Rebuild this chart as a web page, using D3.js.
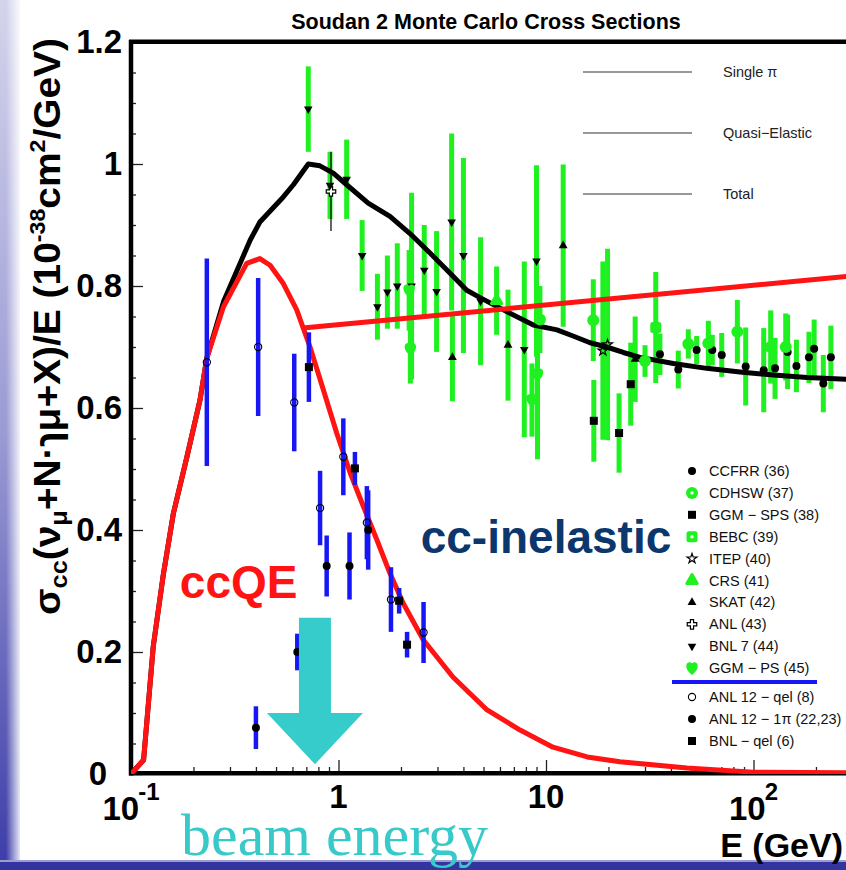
<!DOCTYPE html>
<html>
<head>
<meta charset="utf-8">
<script src="https://cdn.jsdelivr.net/npm/d3@7"></script>
<style>
  body { margin: 0; background: #fff; }
  svg { display: block; }
</style>
</head>
<body>
<svg id="chart" width="846" height="870"></svg>
<script>
// ---- Monte Carlo curves (E in GeV, sigma/E in 1e-38 cm2/GeV)
var qeE = [0.1, 0.115, 0.128, 0.143, 0.16, 0.186, 0.215, 0.232, 0.279, 0.361, 0.418, 0.468, 0.542, 0.629, 0.729, 0.845, 0.98, 1.14, 1.32, 1.53, 1.77, 2.05, 2.56, 3.56, 5.2, 7.5, 10.8, 15.8, 22.7, 47.8, 99.4, 320];
var qeS = [0, 0.023, 0.209, 0.326, 0.427, 0.52, 0.613, 0.682, 0.766, 0.837, 0.845, 0.834, 0.804, 0.761, 0.7, 0.63, 0.559, 0.493, 0.438, 0.384, 0.329, 0.28, 0.22, 0.159, 0.105, 0.072, 0.044, 0.028, 0.02, 0.01, 0.003, 0.002];
var totE = [0.1, 0.115, 0.128, 0.143, 0.16, 0.186, 0.215, 0.232, 0.279, 0.375, 0.418, 0.542, 0.606, 0.715, 0.814, 0.944, 1.095, 1.39, 1.77, 2.21, 2.76, 3.45, 4.15, 4.81, 6.47, 8.69, 11.3, 13.5, 16.3, 19.6, 23.6, 28.4, 41.1, 59.5, 86.1, 125, 181, 320];
var totS = [0, 0.023, 0.209, 0.326, 0.427, 0.52, 0.613, 0.682, 0.774, 0.875, 0.905, 0.946, 0.966, 1.0, 0.997, 0.985, 0.966, 0.936, 0.914, 0.886, 0.854, 0.821, 0.793, 0.781, 0.758, 0.736, 0.728, 0.718, 0.707, 0.70, 0.691, 0.683, 0.673, 0.665, 0.659, 0.654, 0.65, 0.646];
var spiE = [0.674, 320];
var spiS = [0.731, 0.8175];

// ---- measurements: [E, sigma/E, error]
var ccfrr = [[35.4, 0.688, 0.034], [43.4, 0.663, 0.031], [53.2, 0.695, 0.023], [63.3, 0.695, 0.025], [70.3, 0.687, 0.036], [91.7, 0.668, 0.064], [112, 0.662, 0.069], [127, 0.665, 0.05], [146, 0.692, 0.061], [161, 0.669, 0.043], [185, 0.683, 0.042], [196, 0.697, 0.048], [217, 0.64, 0.047], [236, 0.683, 0.052]];
var cdhsw = [[9.35, 0.745, 0.055], [16.9, 0.744, 0.067], [30.0, 0.677, 0.026], [48.5, 0.705, 0.024], [60.6, 0.706, 0.037], [83.6, 0.725, 0.052], [121, 0.70, 0.06], [143, 0.70, 0.055]];
var ggmSps = [[17.0, 0.579, 0.067], [22.5, 0.559, 0.065], [25.6, 0.639, 0.068]];
var bebc = [[33.8, 0.732, 0.091]];
var itep = [[18.8, 0.694, 0.146], [19.8, 0.704, 0.157]];
var crs = [[5.78, 0.776, 0.056]];
var skat = [[3.54, 0.683, 0.072], [6.56, 0.703, 0.091], [12.1, 0.866, 0.133], [26.9, 0.68, 0.07]];
var anl = [[0.92, 0.955, 0.065]];
var bnl7 = [[0.715, 1.09, 0.07], [0.91, 0.965, 0.055], [1.095, 0.975, 0.065], [1.30, 0.85, 0.058], [1.54, 0.766, 0.054], [1.72, 0.79, 0.06], [1.92, 0.80, 0.07], [2.25, 0.80, 0.153], [2.59, 0.826, 0.074], [2.97, 0.791, 0.099], [3.51, 0.905, 0.145], [4.0, 0.85, 0.16], [4.84, 0.775, 0.105], [7.86, 0.696, 0.144], [9.0, 0.841, 0.157]];
var ggmPs = [[2.19, 0.793, 0.066], [2.22, 0.697, 0.057], [8.56, 0.613, 0.06], [9.1, 0.655, 0.139]];
var anlQel = [[0.232, 0.675, 0.17], [0.41, 0.70, 0.113], [0.612, 0.609, 0.08], [0.815, 0.436, 0.061], [1.055, 0.52, 0.063], [1.37, 0.412, 0.06], [1.79, 0.286, 0.053], [2.57, 0.232, 0.05]];
var anl1pi = [[0.40, 0.076, 0.035], [0.633, 0.20, 0.03], [0.877, 0.341, 0.05], [1.13, 0.341, 0.055], [1.39, 0.40, 0.065]];
var bnlQel = [[0.72, 0.667, 0.057], [1.20, 0.501, 0.027], [1.96, 0.284, 0.021], [2.14, 0.212, 0.021]];

// ---- axis labels / legend text
var yTicks = [0, 0.2, 0.4, 0.6, 0.8, 1, 1.2];
var yTickLabels = ["0", "0.2", "0.4", "0.6", "0.8", "1", "1.2"];
var xTicks = [0.1, 1, 10, 100];
var xTickBase = ["10", "1", "10", "10"];
var xTickExp = ["-1", "", "", "2"];
var curveNames = ["Single \u03c0", "Quasi\u2212Elastic", "Total"];
var legendNames = ["CCFRR (36)", "CDHSW (37)", "GGM \u2212 SPS (38)", "BEBC (39)", "ITEP (40)", "CRS (41)", "SKAT (42)", "ANL (43)", "BNL 7 (44)", "GGM \u2212 PS (45)", "ANL 12 \u2212 qel (8)", "ANL 12 \u2212 1\u03c0 (22,23)", "BNL \u2212 qel (6)"];

var GREEN = "#1ff01f", BLUE = "#1717f5", RED = "#ff1313";
var SANS = "'Liberation Sans', Arial, sans-serif";

var series = [
    { data: ccfrr, marker: "dot", bar: GREEN },
    { data: cdhsw, marker: "ring", bar: GREEN },
    { data: ggmSps, marker: "square", bar: GREEN },
    { data: bebc, marker: "box", bar: GREEN },
    { data: itep, marker: "star", bar: GREEN },
    { data: crs, marker: "gtri", bar: GREEN },
    { data: skat, marker: "tri", bar: GREEN },
    { data: anl, marker: "cross", bar: "#000" },
    { data: bnl7, marker: "down", bar: GREEN },
    { data: ggmPs, marker: "blob", bar: GREEN },
    { data: anlQel, marker: "open", bar: BLUE },
    { data: anl1pi, marker: "dot", bar: BLUE },
    { data: bnlQel, marker: "square", bar: BLUE }
];
series.forEach((s, i) => s.name = legendNames[i]);

var svg = d3.select("#chart");
var W = 846, H = 870;

var x = d3.scaleLog().domain([0.1, 320]).range([131, 131 + 207.5 * Math.log10(3200)]);
var y = d3.scaleLinear().domain([0, 1.2]).range([774, 42]);

// ---- slide background
var defs = svg.append("defs");
var gl = defs.append("linearGradient").attr("id", "side").attr("x1", 0).attr("x2", 0).attr("y1", 0).attr("y2", 1);
gl.append("stop").attr("offset", "0").attr("stop-color", "#d4d4ec");
gl.append("stop").attr("offset", "0.5").attr("stop-color", "#9a9ad4");
gl.append("stop").attr("offset", "1").attr("stop-color", "#3c3ca8");
var fade = defs.append("linearGradient").attr("id", "fade").attr("x1", 0).attr("x2", 1).attr("y1", 0).attr("y2", 0);
fade.append("stop").attr("offset", "0").attr("stop-color", "#fff").attr("stop-opacity", 0);
fade.append("stop").attr("offset", "1").attr("stop-color", "#fff").attr("stop-opacity", 1);
defs.append("clipPath").attr("id", "plotclip").append("rect")
    .attr("x", 131).attr("y", 42).attr("width", W - 131).attr("height", 732);

svg.append("rect").attr("width", W).attr("height", H).attr("fill", "#fff");
svg.append("rect").attr("x", 0).attr("y", 0).attr("width", 20).attr("height", H).attr("fill", "url(#side)");
svg.append("rect").attr("x", 6).attr("y", 0).attr("width", 16).attr("height", H).attr("fill", "url(#fade)");
svg.append("rect").attr("x", 0).attr("y", 862).attr("width", W).attr("height", 8).attr("fill", "#34349f");
svg.append("rect").attr("x", 0).attr("y", 860).attr("width", W).attr("height", 2).attr("fill", "#9c9cd4");

// ---- title
svg.append("text").attr("x", 486).attr("y", 29).attr("text-anchor", "middle")
    .attr("font-family", SANS).attr("font-weight", "bold").attr("font-size", 21.5)
    .text("Soudan 2 Monte Carlo Cross Sections");

// ---- axes
function styleTicks(g) {
    g.select(".domain").remove();
    g.selectAll(".tick line").attr("stroke", "#222").attr("stroke-width", 1.3);
}
var yMinor = d3.range(0.05, 1.2, 0.05).filter(v => Math.abs(v * 5 - Math.round(v * 5)) > 1e-6);
svg.append("g").attr("transform", "translate(131,0)")
    .call(d3.axisLeft(y).tickValues(yMinor).tickSize(-5).tickFormat(""))
    .call(styleTicks);
var yg = svg.append("g").attr("transform", "translate(131,0)")
    .call(d3.axisLeft(y).tickValues(yTicks).tickSize(-12).tickPadding(9).tickFormat((d, i) => yTickLabels[i]))
    .call(styleTicks);
yg.attr("font-family", SANS).attr("font-size", 33).attr("font-weight", "bold");
yg.selectAll(".tick text").attr("fill", "#000").filter(d => d === 0).attr("x", -24);

var xMinor = [];
[0.1, 1, 10, 100].forEach(dec => d3.range(2, 10).forEach(k => { if (dec * k <= 320) xMinor.push(dec * k); }));
svg.append("g").attr("transform", "translate(0,773)")
    .call(d3.axisBottom(x).tickValues(xMinor).tickSize(-6).tickFormat(""))
    .call(styleTicks);
svg.append("g").attr("transform", "translate(0,773)")
    .call(d3.axisBottom(x).tickValues(xTicks).tickSize(-13).tickFormat(""))
    .call(styleTicks);

var xl = svg.append("g").selectAll("text").data(xTicks).enter().append("text")
    .attr("x", d => x(d))
    .attr("y", (d, i) => xTickExp[i] ? 820 : 808)
    .attr("text-anchor", "middle")
    .attr("font-family", SANS).attr("font-size", 33).attr("font-weight", "bold");
xl.append("tspan").text((d, i) => xTickBase[i]);
xl.filter((d, i) => xTickExp[i]).append("tspan")
    .attr("font-size", 24).attr("dy", -20).attr("dx", -1)
    .text((d, i) => xTickExp[xTicks.indexOf(d)]);

// frame
svg.append("path").attr("d", `M131,40V775.5`).attr("stroke", "#000").attr("stroke-width", 4.5);
svg.append("path").attr("d", `M129,41.8H${W}`).attr("stroke", "#000").attr("stroke-width", 4.5);
svg.append("path").attr("d", `M129,773.3H${W}`).attr("stroke", "#000").attr("stroke-width", 4.5);

// axis titles
svg.append("text").attr("x", 843).attr("y", 857).attr("text-anchor", "end")
    .attr("font-family", SANS).attr("font-size", 34).attr("font-weight", "bold").text("E (GeV)");

var yt = svg.append("text").attr("transform", "translate(60,615) rotate(-90)")
    .attr("font-family", SANS).attr("font-size", 37).attr("font-weight", "bold")
    .attr("textLength", 577).attr("lengthAdjust", "spacingAndGlyphs");
yt.append("tspan").text("\u03c3");
yt.append("tspan").attr("font-size", 24).attr("dy", 7).text("cc");
yt.append("tspan").attr("dy", -7).text("(\u03bd");
yt.append("tspan").attr("font-size", 24).attr("dy", 7).text("\u03bc");
yt.append("tspan").attr("dy", -7).text("+N\u00b7\u027f\u03bc+X)/E (10");
yt.append("tspan").attr("font-size", 22).attr("dy", -15).text("-38");
yt.append("tspan").attr("dy", 15).text("cm");
yt.append("tspan").attr("font-size", 22).attr("dy", -15).text("2");
yt.append("tspan").attr("dy", 15).text("/GeV)");

// ---- markers (inLegend: hollow centre on the green symbols)
function drawMarker(g, type, cx, cy, inLegend) {
    var m = g.append("g").attr("transform", `translate(${cx},${cy})`);
    if (type === "dot") m.append("circle").attr("r", 4).attr("fill", "#000");
    else if (type === "open") m.append("circle").attr("r", 3.6).attr("fill", "none").attr("stroke", "#000").attr("stroke-width", 1.1);
    else if (type === "square") m.append("rect").attr("x", -4).attr("y", -4).attr("width", 8).attr("height", 8).attr("fill", "#000");
    else if (type === "ring") {
        m.append("circle").attr("r", 6).attr("fill", GREEN);
        if (inLegend) m.append("circle").attr("r", 1.7).attr("fill", "#fff");
    } else if (type === "box") {
        m.append("rect").attr("x", -5.5).attr("y", -5.5).attr("width", 11).attr("height", 11).attr("rx", 2.5).attr("fill", GREEN);
        if (inLegend) m.append("circle").attr("r", 1.7).attr("fill", "#fff");
    } else if (type === "star") m.append("path").attr("d", d3.symbol(d3.symbolStar, 30)()).attr("fill", "none").attr("stroke", "#000").attr("stroke-width", 1.2);
    else if (type === "tri") m.append("path").attr("d", d3.symbol(d3.symbolTriangle, 34)()).attr("fill", "#000");
    else if (type === "gtri") m.append("path").attr("d", d3.symbol(d3.symbolTriangle, 46)()).attr("fill", GREEN)
        .attr("stroke", GREEN).attr("stroke-width", 3).attr("stroke-linejoin", "round");
    else if (type === "cross") m.append("path").attr("d", d3.symbol(d3.symbolCross, 50)()).attr("fill", "#fff").attr("stroke", "#000").attr("stroke-width", 1.2);
    else if (type === "down") m.append("path").attr("d", d3.symbol(d3.symbolTriangle, 32)()).attr("transform", "rotate(180)").attr("fill", "#000");
    else if (type === "blob") m.append("path").attr("d", "M0,7C-4,4 -6.5,0 -5.5,-3.5C-4.5,-6.5 -1.5,-6.5 0,-4.5C1.5,-6.5 4.5,-6.5 5.5,-3.5C6.5,0 4,4 0,7Z").attr("fill", GREEN);
}

var plot = svg.append("g").attr("clip-path", "url(#plotclip)");
var line = d3.line().x(d => x(d[0])).y(d => y(d[1]));

// green error bars below the curves
var greenBars = plot.append("g");
var blackBars = plot.append("g");
series.filter(s => s.bar !== BLUE).forEach(s => {
    var gb = s.bar === GREEN ? greenBars : blackBars;
    gb.selectAll(null).data(s.data).enter().append("line")
        .attr("x1", d => x(d[0])).attr("x2", d => x(d[0]))
        .attr("y1", d => y(d[1] + d[2])).attr("y2", d => y(d[1] - d[2]))
        .attr("stroke", s.bar).attr("stroke-width", s.bar === GREEN ? 5 : 1.2);
});

// curves
plot.append("path").datum(totE.map((e, i) => [e, totS[i]])).attr("d", line)
    .attr("fill", "none").attr("stroke", "#000").attr("stroke-width", 5).attr("stroke-linejoin", "round");
plot.append("path").datum(qeE.map((e, i) => [e, qeS[i]])).attr("d", line)
    .attr("fill", "none").attr("stroke", RED).attr("stroke-width", 5).attr("stroke-linejoin", "round");
plot.append("path").datum(spiE.map((e, i) => [e, spiS[i]])).attr("d", line)
    .attr("fill", "none").attr("stroke", RED).attr("stroke-width", 5);

// blue (quasi-elastic / 1pi) bars
series.filter(s => s.bar === BLUE).forEach(s => {
    plot.append("g").selectAll("line").data(s.data).enter().append("line")
        .attr("x1", d => x(d[0])).attr("x2", d => x(d[0]))
        .attr("y1", d => y(d[1] + d[2])).attr("y2", d => y(d[1] - d[2]))
        .attr("stroke", BLUE).attr("stroke-width", 4.5);
});

// markers on top
var marks = plot.append("g");
series.forEach(s => s.data.forEach(d => drawMarker(marks, s.marker, x(d[0]), y(d[1]), false)));

// ---- legend of curves
var cl = svg.append("g").selectAll("g").data(curveNames).enter().append("g")
    .attr("transform", (d, i) => `translate(0,${72 + i * 61})`);
cl.append("line").attr("x1", 583).attr("x2", 692).attr("stroke", "#333").attr("stroke-width", 1.2);
cl.append("text").attr("x", 723).attr("y", 5).attr("font-family", SANS).attr("font-size", 14.5)
    .attr("fill", "#222").text(d => d);

// ---- legend of data sets
var lg = svg.append("g");
series.forEach((s, i) => {
    var cy = i < 10 ? 471 + i * 21.9 : 697 + (i - 10) * 22;
    drawMarker(lg, s.marker, 692, cy, true);
    lg.append("text").attr("x", 709).attr("y", cy + 5).attr("font-family", SANS).attr("font-size", 14.5)
        .attr("fill", "#111").text(s.name);
});
lg.append("line").attr("x1", 672).attr("x2", 817).attr("y1", 682).attr("y2", 682)
    .attr("stroke", BLUE).attr("stroke-width", 4);

// ---- slide annotations
svg.append("text").attr("x", x(0.172)).attr("y", y(0.289))
    .attr("font-family", SANS).attr("font-weight", "bold").attr("font-size", 46).attr("fill", RED).text("ccQE");
svg.append("text").attr("x", x(2.49)).attr("y", y(0.362))
    .attr("font-family", SANS).attr("font-weight", "bold").attr("font-size", 46).attr("fill", "#0c376c").text("cc-inelastic");

var arrowE = 0.77;
var ax = x(arrowE);
svg.append("path")
    .attr("d", `M${ax - 16},${y(0.256)}H${ax + 16}V${y(0.1)}H${ax + 48}L${ax},${y(0.016)}L${ax - 48},${y(0.1)}H${ax - 16}Z`)
    .attr("fill", "#36cccc");
svg.append("text").attr("x", 181).attr("y", 855)
    .attr("font-family", "'Liberation Serif', 'Times New Roman', serif").attr("font-size", 60)
    .attr("fill", "#38c9c9").text("beam energy");
</script>
</body>
</html>
